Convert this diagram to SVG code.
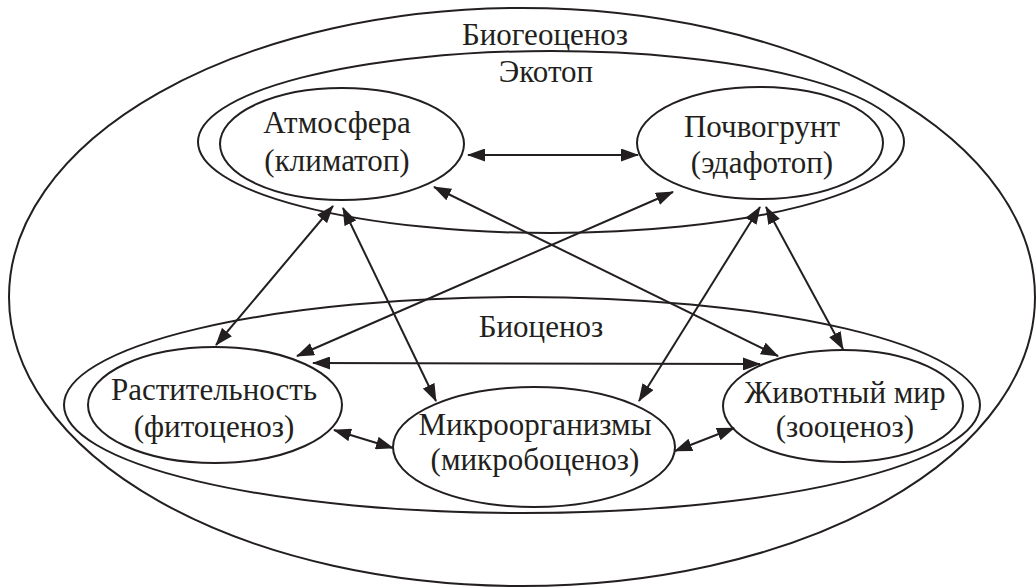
<svg xmlns="http://www.w3.org/2000/svg" width="1036" height="587" viewBox="0 0 1036 587">
<style>
.sh{fill:none;stroke:#231f20;stroke-width:2}
.t{font-family:"Liberation Serif","Times New Roman",serif;font-size:31px;fill:#231f20;text-anchor:middle}
.c{fill:none;stroke:#231f20;stroke-width:2;marker-start:url(#a);marker-end:url(#a)}
</style>
<defs>
<marker id="a" viewBox="0 0 18 13" refX="17" refY="6.5" markerWidth="18" markerHeight="13" markerUnits="userSpaceOnUse" orient="auto-start-reverse">
<path d="M0,0 L18,6.5 L0,13 Z" fill="#231f20"/>
</marker>
</defs>
<rect width="1036" height="587" fill="#fff"/>
<g id="biogeocenoz">
<ellipse class="sh" cx="522" cy="297" rx="513" ry="289"/>
<text class="t" x="545" y="45">Биогеоценоз</text>
</g>
<g id="ekotop">
<ellipse class="sh" cx="551" cy="142" rx="353" ry="91"/>
<text class="t" x="546" y="82">Экотоп</text>
</g>
<g id="biocenoz">
<ellipse class="sh" cx="522" cy="405" rx="458" ry="108"/>
<text class="t" x="541" y="337">Биоценоз</text>
</g>
<g id="atmosfera">
<ellipse class="sh" cx="342" cy="144" rx="122" ry="56"/>
<text class="t" x="337" y="133">Атмосфера</text>
<text class="t" x="337" y="171">(климатоп)</text>
</g>
<g id="pochvogrunt">
<ellipse class="sh" cx="760" cy="143" rx="123" ry="56"/>
<text class="t" x="762" y="137">Почвогрунт</text>
<text class="t" x="762" y="173">(эдафотоп)</text>
</g>
<g id="rastitelnost">
<ellipse class="sh" cx="215" cy="405" rx="127" ry="58"/>
<text class="t" x="214" y="400">Растительность</text>
<text class="t" x="214" y="437">(фитоценоз)</text>
</g>
<g id="mikroorganizmy">
<ellipse class="sh" cx="534" cy="447" rx="141" ry="60"/>
<text class="t" x="535" y="435">Микроорганизмы</text>
<text class="t" x="535" y="470">(микробоценоз)</text>
</g>
<g id="zhivotny">
<ellipse class="sh" cx="843" cy="406" rx="120" ry="56"/>
<text class="t" x="845" y="403">Животный мир</text>
<text class="t" x="845" y="437">(зооценоз)</text>
</g>
<g id="connectors">
<line class="c" x1="468" y1="155" x2="638" y2="155"/>
<line class="c" x1="333" y1="206" x2="216" y2="345"/>
<line class="c" x1="343" y1="208" x2="436" y2="401"/>
<line class="c" x1="434" y1="187" x2="778" y2="356"/>
<line class="c" x1="673" y1="192" x2="297" y2="356"/>
<line class="c" x1="760" y1="207" x2="639" y2="401"/>
<line class="c" x1="766" y1="207" x2="843" y2="349"/>
<line class="c" x1="313" y1="363" x2="760" y2="364"/>
<line class="c" x1="334" y1="430" x2="393" y2="448"/>
<line class="c" x1="675" y1="451" x2="734" y2="428"/>
</g>
</svg>
